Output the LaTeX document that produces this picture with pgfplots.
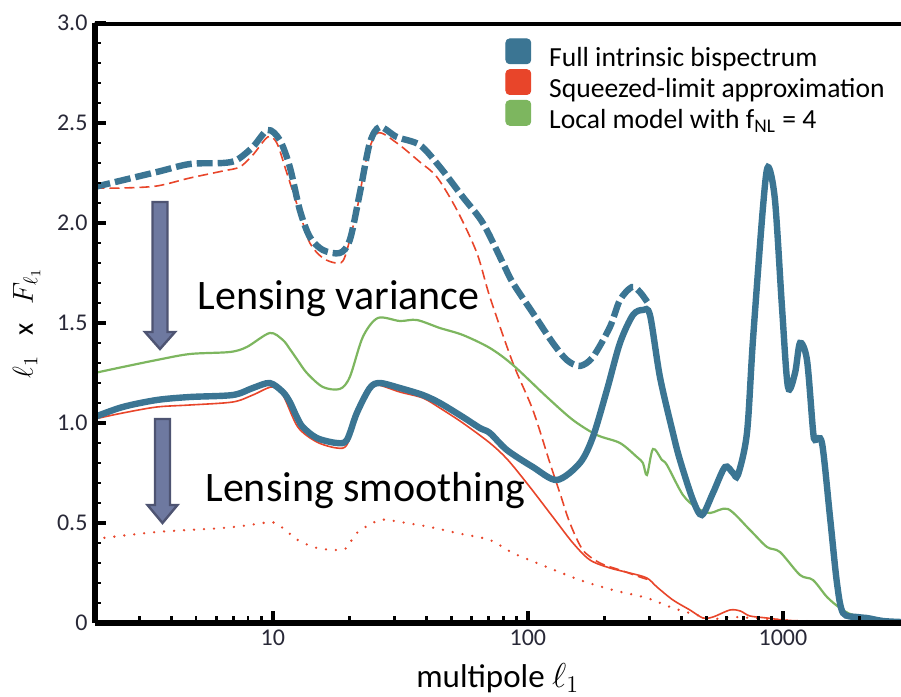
\documentclass[border=0pt]{standalone}
\usepackage{pgfplots}
\pgfplotsset{compat=1.18}
\usepackage{fontspec}
\setmainfont{Carlito}

\definecolor{fullblue}{RGB}{59,117,147}
\definecolor{sqred}{RGB}{232,69,42}
\definecolor{locgreen}{RGB}{125,182,95}
\definecolor{arrowfill}{RGB}{110,121,160}
\definecolor{arrowedge}{RGB}{78,84,114}
\definecolor{ticktext}{RGB}{40,40,55}

\begin{document}
\begin{tikzpicture}
\begin{axis}[
  scale only axis, width=403.25pt, height=300pt,
  xmode=log, xmin=2, xmax=2902, ymin=0, ymax=3,
  axis x line*=bottom, axis y line*=left,
  axis line style={line width=3pt, black},
  axis on top,
  xtick align=inside, ytick align=inside,
  major tick length=6pt, minor tick length=3.5pt,
  major tick style={line width=2pt, black},
  minor tick style={line width=1.4pt, black},
  xtick={10,100,1000}, xticklabels={10,100,1000},
  minor xtick={3,4,5,6,7,8,9,20,30,40,50,60,70,80,90,200,300,400,500,600,700,800,900,2000},
  ytick={0,0.5,1,1.5,2,2.5,3}, yticklabels={0,0.5,1.0,1.5,2.0,2.5,3.0},
  minor ytick={0.1,0.2,0.3,0.4,0.6,0.7,0.8,0.9,1.1,1.2,1.3,1.4,1.6,1.7,1.8,1.9,2.1,2.2,2.3,2.4,2.6,2.7,2.8,2.9},
  ticklabel style={font=\fontsize{12}{14}\selectfont, text=ticktext},
  xlabel={multipole $\ell_1$},
  xlabel style={at={(axis description cs:0.5,0)}, anchor=base, yshift=-32pt, font=\fontsize{16.5}{18}\selectfont},
  ylabel={$\ell_1$\hspace{0.7em}x\hspace{0.7em}$F_{\ell_1}$},
  ylabel style={at={(axis description cs:-0.0763,0.5)}, anchor=base, font=\fontsize{14}{16}\selectfont},
  legend cell align=left,
  legend style={draw=none, fill=none, at={(0.509,0.975)}, anchor=north west,
    inner sep=0pt, row sep=-2.25pt, font=\fontsize{13.8}{16}\selectfont,
    /tikz/every odd column/.append style={column sep=9pt},
    nodes={inner sep=0pt, text height=10pt, text depth=3.5pt}},
]

% squeezed-limit approximation, lensed and reduced (dotted)
\addplot[forget plot, sqred, line width=1.3pt, line cap=round, dash pattern=on 0pt off 5pt, smooth] coordinates {
(2.0,0.42) (3.51,0.455) (6.37,0.475) (8.66,0.495) (9.91,0.505) (10.95,0.475)
(12.53,0.415) (14.88,0.375) (17.82,0.365) (19.51,0.375) (21.35,0.45) (26.28,0.515)
(31.48,0.505) (41.27,0.48) (52.70,0.45) (70.96,0.415) (87.36,0.35) (118.7,0.28)
(159.9,0.215) (215.4,0.165) (292.9,0.125) (370.4,0.075) (460.0,0.04) (531.5,0.02)
(636.8,0.03) (865.7,0.02) (1166,0.01) (1830,0.005) (2902,0)
};

% squeezed-limit approximation, lensed
\addplot[forget plot, sqred, line width=0.8pt, smooth] coordinates {
(2.0,1.02) (2.58,1.05) (3.51,1.08) (4.73,1.09) (6.97,1.105) (8.35,1.14) (9.91,1.18)
(10.95,1.14) (12.53,0.98) (14.88,0.905) (17.82,0.875) (19.51,0.89) (21.35,1.03)
(24.01,1.165) (25.81,1.19) (31.48,1.155) (38.75,1.125) (45.18,1.075) (55.60,1.00)
(70.96,0.90) (83.50,0.815) (101.8,0.68) (125.3,0.53) (150.2,0.40) (175.1,0.315)
(209.7,0.275) (251.2,0.25) (292.9,0.225) (320.6,0.18) (370.4,0.115) (431.8,0.065)
(485.7,0.025) (531.5,0.03) (619.8,0.065) (680,0.06) (742.4,0.035) (865.7,0.025)
(1000,0.015) (1166,0.01) (1359,0.005) (1673,0)
};

% squeezed-limit approximation, unlensed
\addplot[forget plot, sqred, line width=0.8pt, dash pattern=on 5pt off 2.5pt, smooth] coordinates {
(2.0,2.175) (2.58,2.175) (3.51,2.185) (4.73,2.225) (6.37,2.26) (7.42,2.28) (8.35,2.34)
(9.56,2.43) (10.37,2.40) (11.35,2.25) (12.76,2.05) (13.97,1.90) (15.71,1.825)
(17.82,1.80) (19.16,1.83) (21.35,2.065) (23.37,2.33) (25.81,2.45) (30.64,2.40)
(37.72,2.305) (43.97,2.23) (52.70,2.065) (63.10,1.85) (70.96,1.63) (87.36,1.30)
(104.6,1.065) (122.0,0.80) (133.5,0.65) (146.1,0.50) (164.3,0.365) (191.6,0.30)
(229.6,0.265) (282.5,0.225) (301,0.215)
};

% local model, f_NL = 4
\addplot[forget plot, locgreen, line width=1.1pt, smooth] coordinates {
(2.0,1.25) (2.58,1.28) (3.51,1.315) (4.73,1.345) (6.78,1.355) (7.91,1.38) (9.73,1.45)
(10.95,1.415) (11.66,1.37) (12.42,1.32) (13.60,1.25) (15.71,1.18) (18.31,1.17)
(20.04,1.23) (22.54,1.43) (25.81,1.525) (31.48,1.51) (36.71,1.515) (45.18,1.475)
(55.60,1.44) (70.96,1.375) (87.36,1.29) (118.7,1.13) (150.2,1.015) (186.4,0.94)
(229.6,0.90) (267.6,0.83) (282.5,0.80) (292.9,0.74) (309.3,0.87) (335.4,0.815)
(350.9,0.79) (405.4,0.64) (460.0,0.575) (517.3,0.55) (608.6,0.57) (742.4,0.465)
(865.7,0.38) (973.2,0.355) (1166,0.24) (1311,0.215) (1488,0.13) (1673,0.075)
(1882,0.04) (2468,0.01) (2902,0.005)
};

% full intrinsic bispectrum, lensed
\addplot[forget plot, fullblue, line width=3.2pt, smooth] coordinates {
(2.0,1.03) (2.58,1.08) (3.51,1.115) (4.73,1.13) (6.97,1.14) (8.35,1.175) (9.73,1.20)
(10.95,1.155) (11.66,1.105) (12.42,1.03) (13.11,0.98) (14.88,0.925) (17.82,0.90)
(19.51,0.915) (21.35,1.05) (24.01,1.175) (26.28,1.20) (31.48,1.175) (38.75,1.14)
(45.18,1.10) (55.60,1.03) (64.83,0.975) (70.96,0.95) (82.74,0.865) (104.6,0.78)
(129.9,0.715) (159.9,0.80) (179.8,0.93) (204.1,1.165) (229.6,1.40) (258.1,1.54)
(282.5,1.565) (301.0,1.54) (329.4,1.23) (370.4,0.95) (394.6,0.815) (443.7,0.615)
(481.3,0.54) (531.5,0.65) (592.4,0.78) (636.8,0.75) (665.8,0.74) (722.5,0.95)
(762.7,1.415) (835.0,2.08) (873.6,2.28) (930.3,2.115) (991.1,1.58) (1046,1.18)
(1115,1.25) (1166,1.40) (1242,1.315) (1311,0.965) (1335,0.915) (1422,0.90)
(1529,0.53) (1628,0.20) (1719,0.05) (1951,0.03) (2135,0.025) (2468,0.01) (2902,0.005)
};

% full intrinsic bispectrum, unlensed
\addplot[forget plot, fullblue, line width=3.2pt, dash pattern=on 8pt off 2.5pt, smooth] coordinates {
(2.0,2.18) (3.51,2.255) (4.73,2.295) (6.37,2.30) (7.22,2.315) (8.35,2.38) (9.56,2.465)
(10.65,2.415) (11.66,2.28) (12.76,2.065) (13.97,1.93) (15.71,1.865) (18.31,1.85)
(20.04,1.915) (21.94,2.15) (24.01,2.40) (26.28,2.48) (30.64,2.43) (37.72,2.39)
(45.18,2.28) (55.60,2.13) (66.61,2.00) (79.80,1.80) (87.36,1.70) (104.6,1.55)
(125.3,1.40) (142.2,1.315) (159.9,1.285) (179.8,1.33) (209.7,1.48) (229.6,1.615)
(255.8,1.68) (274.9,1.655) (295.6,1.60)
};

\addlegendimage{legend image code/.code={\fill[fullblue, rounded corners=2pt] (0pt,-1.8pt) rectangle (12.5pt,10.7pt);}}
\addlegendentry{Full intrinsic bispectrum}
\addlegendimage{legend image code/.code={\fill[sqred, rounded corners=2pt] (0pt,-1.8pt) rectangle (12.5pt,10.7pt);}}
\addlegendentry{Squeezed-limit approximation}
\addlegendimage{legend image code/.code={\fill[locgreen, rounded corners=2pt] (0pt,-1.8pt) rectangle (12.5pt,10.7pt);}}
\addlegendentry{Local model with f\textsubscript{NL} = 4}

% top frame line
\draw[line width=3pt, black] ([xshift=-1.5pt]rel axis cs:0,1) -- (rel axis cs:1,1);
\end{axis}

% downward arrows
\filldraw[fill=arrowfill, draw=arrowedge, line width=1.2pt, line join=miter]
  (29pt,210.5pt) -- (36.5pt,210.5pt) -- (36.5pt,145.5pt) -- (40.25pt,145.5pt)
  -- (32.75pt,137pt) -- (25.25pt,145.5pt) -- (29pt,145.5pt) -- cycle;
\filldraw[fill=arrowfill, draw=arrowedge, line width=1.2pt, line join=miter]
  (30.25pt,102pt) -- (37.75pt,102pt) -- (37.75pt,59pt) -- (41.5pt,59pt)
  -- (34pt,50pt) -- (26.5pt,59pt) -- (30.25pt,59pt) -- cycle;

\node[anchor=base west, inner sep=0pt, font=\fontsize{21}{24}\selectfont] at (51.5pt,156.5pt) {Lensing variance};
\node[anchor=base west, inner sep=0pt, font=\fontsize{21}{24}\selectfont] at (55.25pt,60.5pt) {Lensing smoothing};

\pgfresetboundingbox
\path[use as bounding box] (-47.25pt,-37pt) rectangle (403.25pt,311.5pt);
\end{tikzpicture}
\end{document}
